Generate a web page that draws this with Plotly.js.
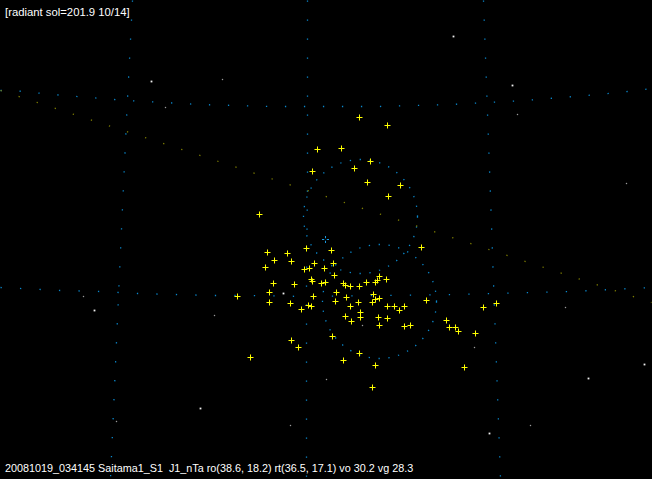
<!DOCTYPE html>
<html>
<head>
<meta charset="utf-8">
<script src="https://cdn.plot.ly/plotly-3.0.1.min.js"></script>
<style>html,body{margin:0;padding:0;background:#000;}#chart{width:652px;height:479px;}</style>
</head>
<body>
<div id="chart"></div>
<script>
// Meteor points (yellow crosses), in chart pixel units
const crossX = [359,387,317,341,370,312,354,367,400,388,259,267,287,306,331,421,274,291,314,333,265,304,309,324,334,311,312,321,325,273,294,343,345,350,359,366,375,377,379,386,269,336,269,290,313,335,346,358,373,372,379,375,426,301,308,311,350,387,394,399,404,360,360,345,351,378,387,379,404,410,237,291,298,332,359,250,343,375,372,446,449,455,458,475,483,496,464];
const crossY = [117,125,149,148,161,171,168,182,185,196,214,252,253,248,250,247,260,261,263,263,267,269,268,268,275,279,281,283,282,283,284,283,285,286,286,282,282,280,276,279,292,292,302,303,296,301,297,302,294,302,298,299,300,309,305,306,306,306,306,310,306,312,317,316,321,317,318,325,326,325,296,340,347,336,353,357,360,365,387,320,327,327,331,333,307,303,367];

// Background stars
const starBrightX = [151,512,94,283,200,644,588,489,453];
const starBrightY = [81,85,310,293,408,364,378,433,36];
const starDimX = [222,165,517,626,83,214,116,290,565,530,474,362,326];
const starDimY = [79,107,114,183,296,315,421,425,307,425,347,325,379];

// Grid lines (dotted)
const raLeftX = [132,126,119,111,110];
const raLeftY = [0,119,273,448,478];
const raMidX = [307,307,306,306];
const raMidY = [0,182,277,478];
const raRightX = [483,486,489,493,499,500];
const raRightY = [0,83,160,274,449,478];
const decUpperX = [0,13,52,89,126,163,199,236,271,307,343,379,414,451,487,524,561,598,637,651];
const decUpperY = [90,90,94,97,100,102,104,105,106,106,106,106,105,104,102,100,97,94,90,88];
const decLowerX = [0,20,60,99,137,175,213,251,288,306,456,494,532,571,610,651];
const decLowerY = [287,288,290,291,293,294,295,295,296,296,294,293,292,291,289,287];
const eclipticX = [0,651];
const eclipticY = [90,302];

// Circles (centre x, centre y, radius)
const circleCX = [360,379];
const circleCY = [216,301];
const circleR = [57,57];

// Radiant reticle
const radiantX = [325];
const radiantY = [239];

const topText = "[radiant sol=201.9 10/14]";
const bottomText = "20081019_034145 Saitama1_S1&nbsp;&nbsp;J1_nTa ro(38.6, 18.2) rt(36.5, 17.1) vo 30.2 vg 28.3";

const gridColor = '#0a88cc';
function dotted(x, y, color, gap) {
  return {x: x, y: y, type: 'scatter', mode: 'lines', hoverinfo: 'skip',
    line: {color: color, width: 1.3, dash: '1.3px,' + gap + 'px'}};
}

const traces = [
  dotted(raLeftX, raLeftY, gridColor, 17.7),
  dotted(raMidX, raMidY, gridColor, 17.7),
  dotted(raRightX, raRightY, gridColor, 17.7),
  dotted(decUpperX, decUpperY, gridColor, 17.7),
  dotted(decLowerX, decLowerY, gridColor, 18.2),
  dotted(eclipticX, eclipticY, '#7c7c00', 17.7),
  {x: starDimX, y: starDimY, type: 'scatter', mode: 'markers', hoverinfo: 'skip',
    marker: {symbol: 'square', size: 1.3, color: '#9a9a9a', line: {width: 0}}},
  {x: starBrightX, y: starBrightY, type: 'scatter', mode: 'markers', hoverinfo: 'skip',
    marker: {symbol: 'square', size: 1.8, color: '#f0f0f0', line: {width: 0}}},
  {x: radiantX, y: radiantY, type: 'scatter', mode: 'markers', hoverinfo: 'skip',
    marker: {symbol: 'cross-thin', size: 5, color: '#1a9ae0', line: {width: 1, color: '#1a9ae0'}}},
  {x: radiantX, y: radiantY, type: 'scatter', mode: 'markers', hoverinfo: 'skip',
    marker: {symbol: 'square', size: 2.5, color: '#000000', line: {width: 0}}},
  {x: crossX, y: crossY, type: 'scatter', mode: 'markers', hoverinfo: 'skip',
    marker: {symbol: 'cross-thin', size: 4.3, color: '#ffff00', line: {width: 1, color: '#ffff00'}}}
];

const shapes = circleCX.map((cx, i) => ({
  type: 'circle', xref: 'x', yref: 'y', layer: 'below',
  x0: cx - circleR[i], x1: cx + circleR[i],
  y0: circleCY[i] - circleR[i], y1: circleCY[i] + circleR[i],
  line: {color: gridColor, width: 1.3, dash: '1.3px,8.6px'}
}));

const layout = {
  width: 652, height: 479,
  margin: {l: 0, r: 0, t: 0, b: 0, pad: 0},
  paper_bgcolor: '#000000', plot_bgcolor: '#000000',
  showlegend: false,
  xaxis: {range: [-0.5, 651.5], visible: false, fixedrange: true},
  yaxis: {range: [478.5, -0.5], visible: false, fixedrange: true},
  shapes: shapes,
  annotations: [
    {text: topText, x: 2, y: 11, xref: 'x', yref: 'y', xanchor: 'left', yanchor: 'middle', showarrow: false,
      font: {family: 'Liberation Sans, Arial, sans-serif', size: 11.3, color: '#ffffff'}},
    {text: bottomText, x: 2, y: 467, xref: 'x', yref: 'y', xanchor: 'left', yanchor: 'middle', showarrow: false,
      font: {family: 'Liberation Sans, Arial, sans-serif', size: 10.8, color: '#ffffff'}}
  ]
};

Plotly.newPlot('chart', traces, layout, {staticPlot: true, displayModeBar: false});
</script>
</body>
</html>
